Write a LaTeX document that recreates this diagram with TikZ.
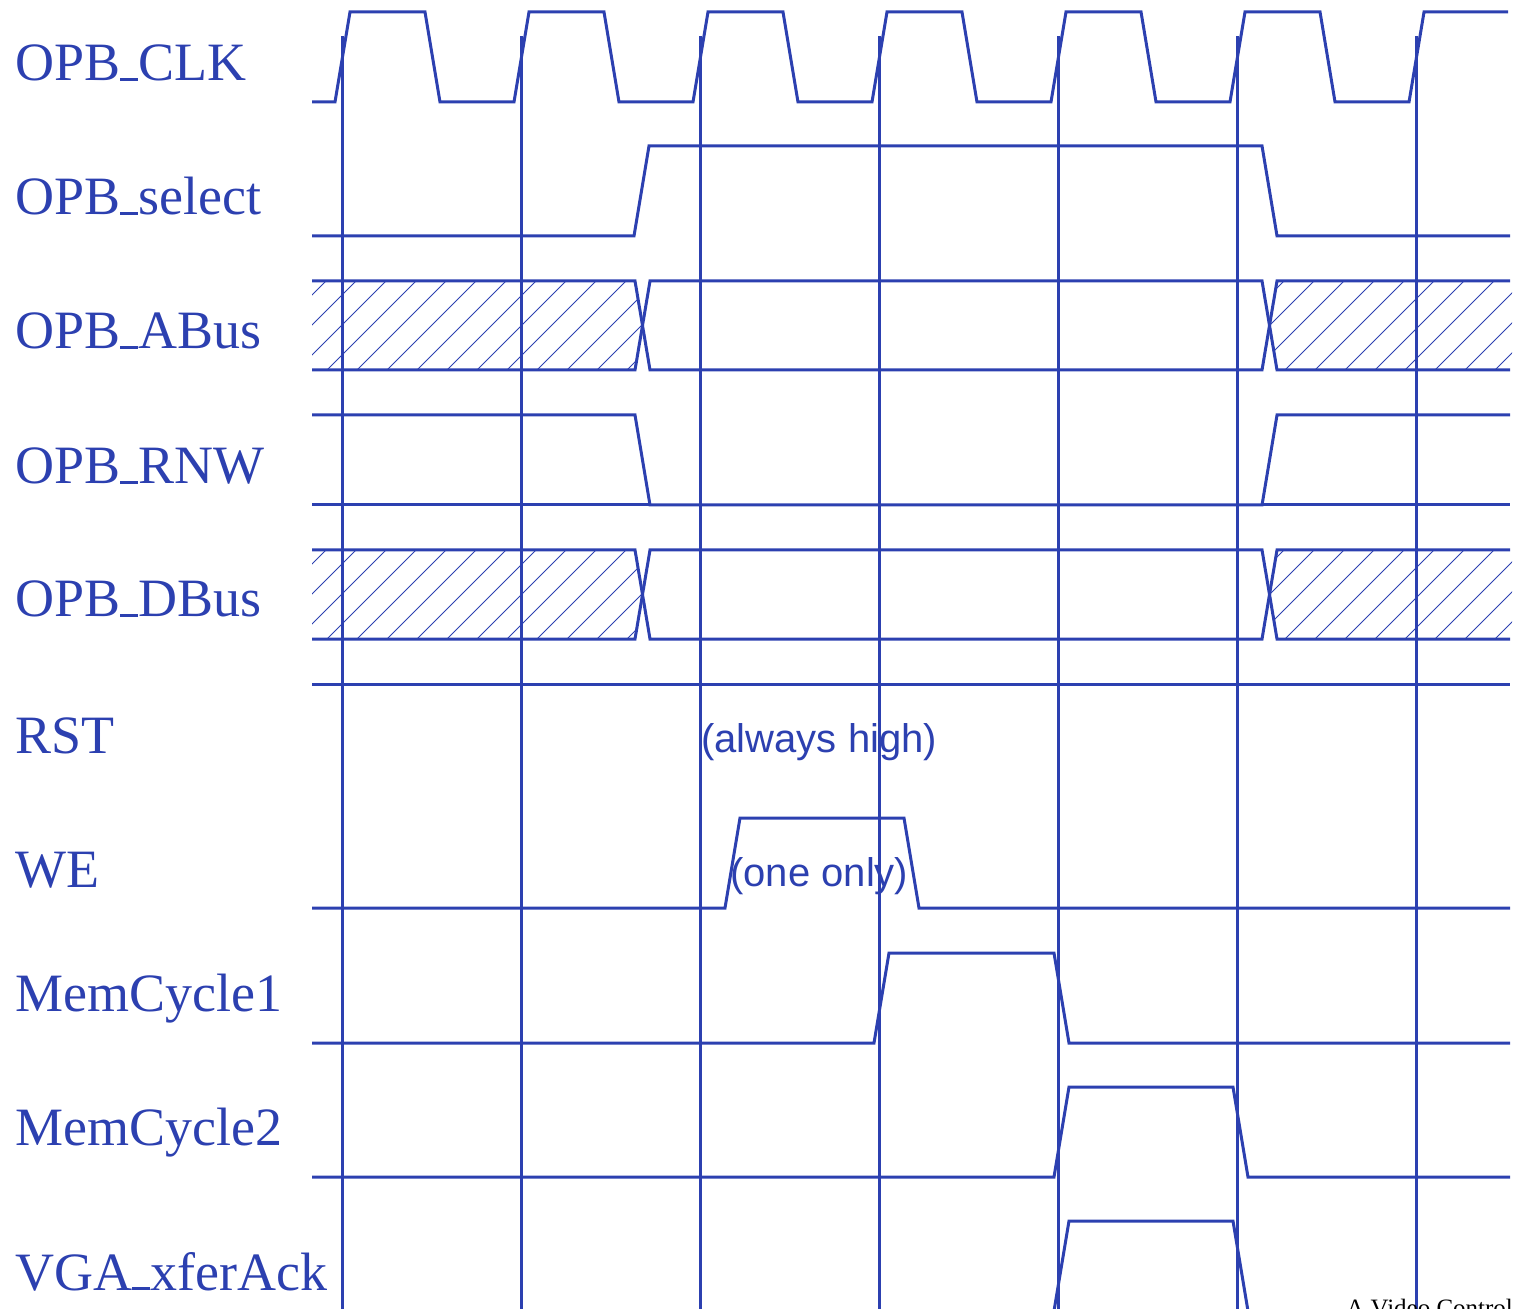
\documentclass[tikz,border=0pt]{standalone}
\usepackage{fontspec}
\setmainfont{Liberation Serif}
\newfontfamily\annofont{Liberation Sans}
\definecolor{sigblue}{RGB}{44,64,176}
\newcommand\ubar{\rule{0.33em}{0.055em}}
\begin{document}
\begin{tikzpicture}[x=0.5pt,y=-0.5pt,
  sig/.style={draw=sigblue,line width=1.5pt,line join=miter},
  gridline/.style={draw=sigblue,line width=1.6pt},
  hatchline/.style={draw=sigblue,line width=0.5pt},
  lbl/.style={anchor=base west,inner sep=0pt,text=sigblue,font=\fontsize{27}{32}\selectfont},
  anno/.style={anchor=base west,inner sep=0pt,text=sigblue,font=\annofont\fontsize{20}{24}\selectfont}]
\useasboundingbox (0,0) rectangle (1524,1309);

% labels
\node[lbl] (lclk) at (15,81) {OPB\ubar CLK};
\node[lbl] (lsel) at (15,215) {OPB\ubar select};
\node[lbl] (labus) at (15,349) {OPB\ubar ABus};
\node[lbl] (lrnw) at (15,484) {OPB\ubar RNW};
\node[lbl] (ldbus) at (15,617) {OPB\ubar DBus};
\node[lbl] (lrst) at (15,753) {RST};
\node[lbl] (lwe) at (15,887) {WE};
\node[lbl] (lmc1) at (15,1011) {MemCycle1};
\node[lbl] (lmc2) at (15,1145) {MemCycle2};
\node[lbl] (lvga) at (15,1290) {VGA\ubar xferAck};

% hatching
\begin{scope}
  \clip (312,281) -- (635,281) -- (642.5,325.5) -- (635,370) -- (312,370) -- cycle;
  \foreach \c in {577,607,...,1057} \draw[hatchline] (\c-281,281) -- (\c-370,370);
\end{scope}
\begin{scope}
  \clip (1512,281) -- (1277,281) -- (1269.5,325.5) -- (1277,370) -- (1512,370) -- cycle;
  \foreach \c in {1535,1565,...,1895} \draw[hatchline] (\c-281,281) -- (\c-370,370);
\end{scope}
\begin{scope}
  \clip (312,550) -- (635,550) -- (642.5,594.5) -- (635,639) -- (312,639) -- cycle;
  \foreach \c in {846,876,...,1326} \draw[hatchline] (\c-550,550) -- (\c-639,639);
\end{scope}
\begin{scope}
  \clip (1512,550) -- (1277,550) -- (1269.5,594.5) -- (1277,639) -- (1512,639) -- cycle;
  \foreach \c in {1804,1834,...,2164} \draw[hatchline] (\c-550,550) -- (\c-639,639);
\end{scope}

% OPB_CLK
\draw[sig] (312,102) -- (335,102) -- (350,12) -- (425,12) -- (440,102)
  -- (514,102) -- (529,12) -- (604,12) -- (619,102)
  -- (693,102) -- (708,12) -- (783,12) -- (798,102)
  -- (872,102) -- (887,12) -- (962,12) -- (977,102)
  -- (1051,102) -- (1066,12) -- (1141,12) -- (1156,102)
  -- (1230,102) -- (1245,12) -- (1320,12) -- (1335,102)
  -- (1409,102) -- (1424,12) -- (1508,12);

% OPB_select
\draw[sig] (312,236) -- (634,236) -- (649,146) -- (1262,146) -- (1277,236) -- (1510,236);

% OPB_ABus
\draw[sig] (312,281) -- (635,281) -- (650,370) -- (1262,370) -- (1277,281) -- (1510,281);
\draw[sig] (312,370) -- (635,370) -- (650,281) -- (1262,281) -- (1277,370) -- (1510,370);

% OPB_RNW
\draw[sig] (312,415) -- (635,415) -- (650,505) -- (1262,505) -- (1277,415) -- (1510,415);
\draw[sig] (312,505) -- (650,505);
\draw[sig] (1262,505) -- (1510,505);

% OPB_DBus
\draw[sig] (312,550) -- (635,550) -- (650,639) -- (1262,639) -- (1277,550) -- (1510,550);
\draw[sig] (312,639) -- (635,639) -- (650,550) -- (1262,550) -- (1277,639) -- (1510,639);

% RST
\draw[sig] (312,684) -- (1510,684);
\node[anno] (trst) at (701,752) {(always high)};

% WE
\draw[sig] (312,908) -- (725,908) -- (740,818) -- (904,818) -- (919,908) -- (1510,908);
\node[anno] (twe) at (730,886) {(one only)};

% MemCycle1
\draw[sig] (312,1043) -- (874,1043) -- (889,953) -- (1054,953) -- (1069,1043) -- (1510,1043);

% MemCycle2
\draw[sig] (312,1177) -- (1054,1177) -- (1069,1087) -- (1233,1087) -- (1248,1177) -- (1510,1177);

% VGA_xferAck
\draw[sig] (1054,1311) -- (1069,1221) -- (1233,1221) -- (1248,1311);

% clock reference lines
\foreach \x [count=\i] in {342.5,521.5,700.5,879.5,1058.5,1237.5,1416.5}
  \draw[gridline] (\x,36) coordinate (gt\i) -- (\x,1312) coordinate (gb\i);

% footer (cut off at the lower edge, as in the reference)
\node[anchor=base west,inner sep=0pt,font=\fontsize{12.5}{15}\selectfont] (foot) at (1346,1316) {A Video Control};
\end{tikzpicture}
\end{document}
